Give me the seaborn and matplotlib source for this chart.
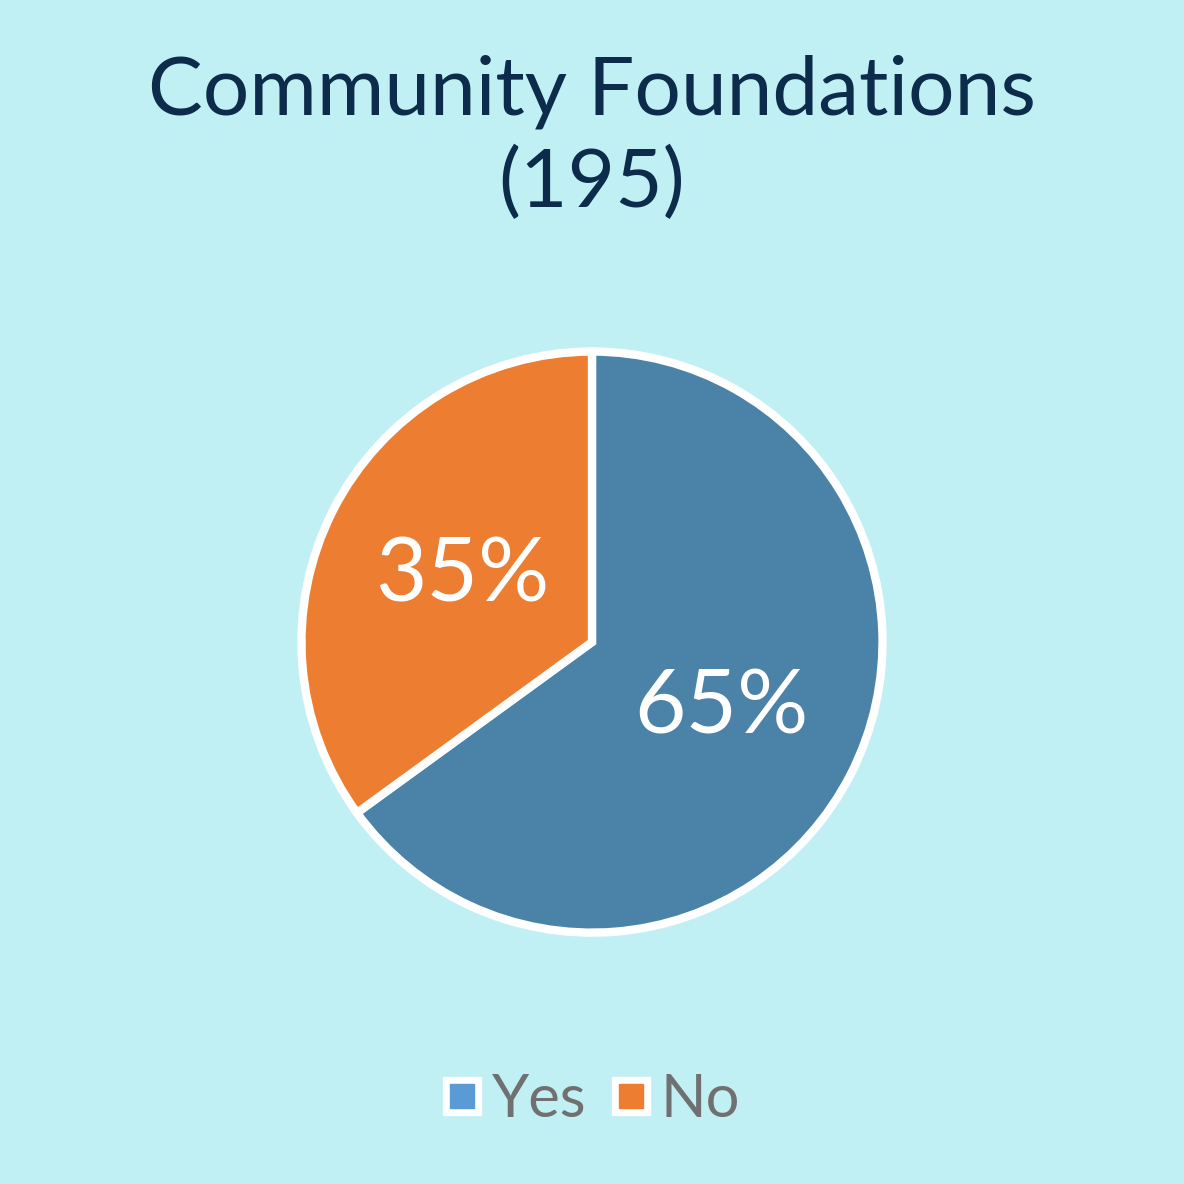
import matplotlib
matplotlib.use('Agg')
import matplotlib.pyplot as plt
from matplotlib.lines import Line2D
from matplotlib.legend_handler import HandlerTuple
import seaborn as sns

labels = ['Yes', 'No']
shares = [65, 35]
title_lines = ['Community Foundations', '(195)']

bg = '#C0F0F4'
slice_colors = ['#4A82A8', '#ED7D31']
legend_colors = ['#5B9BD5', '#ED7D31']

sns.set_theme(style='white')
plt.rcParams['font.family'] = ['Lato', 'DejaVu Sans']

fig = plt.figure(figsize=(11.84, 11.84), dpi=100, facecolor=bg)
ax = fig.add_axes([0.2534, 0.2111, 0.4932, 0.4932])
ax.set_facecolor(bg)

wedges, texts, autotexts = ax.pie(
    shares, colors=slice_colors, startangle=90, counterclock=False,
    autopct='%1.0f%%', pctdistance=0.5,
    wedgeprops=dict(edgecolor='white', linewidth=6),
    textprops=dict(color='white', fontsize=64))
ax.set_xlim(-1.005, 1.005)
ax.set_ylim(-1.005, 1.005)
ax.set_aspect('equal')

fig.text(0.5, 1 - 92 / 1184, title_lines[0], ha='center', va='center',
         fontsize=59, color='#0D2B4A')
fig.text(0.5, 1 - 183 / 1184, title_lines[1], ha='center', va='center',
         fontsize=59, color='#0D2B4A')

handles = []
for c in legend_colors:
    outer = Line2D([], [], marker='s', linestyle='none', markersize=28,
                   markerfacecolor='white', markeredgecolor='white')
    inner = Line2D([], [], marker='s', linestyle='none', markersize=17,
                   markerfacecolor=c, markeredgecolor=c)
    handles.append((outer, inner))

fig.legend(handles, labels, handler_map={tuple: HandlerTuple(ndivide=1, pad=0)},
           loc='center', bbox_to_anchor=(0.5, 1 - 1100 / 1184), ncol=2,
           frameon=False, fontsize=43, labelcolor='#707070',
           handlelength=0.6, handletextpad=0.2, columnspacing=0.45)

fig.savefig('out.png', dpi=100, facecolor=bg)
